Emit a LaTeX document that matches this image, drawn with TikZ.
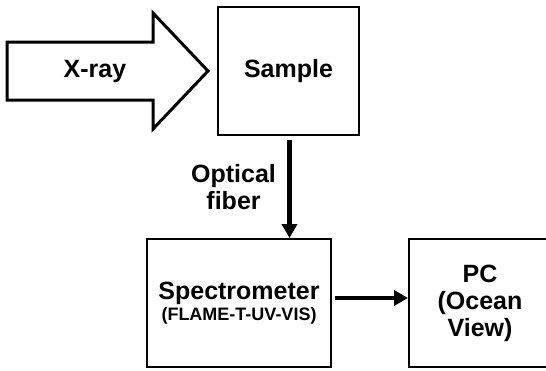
\documentclass[tikz,border=0pt]{standalone}
\usepackage{fontspec}
\setmainfont{Liberation Sans}
\usetikzlibrary{arrows.meta,positioning}

\begin{document}
\begin{tikzpicture}[x=1pt, y=-1pt, >={Triangle[length=14pt, width=15pt]},
	every node/.style={font=\fontsize{25}{27}\selectfont\bfseries, align=center}]
	\useasboundingbox (0,0) rectangle (546,370);
	% x-ray arrow
	\draw[line width=3pt, line join=miter, fill=white] (7,42) -- (153,42) -- (153,13) -- (208,71) -- (153,129) -- (153,100) -- (7,100) -- cycle;
	\node (xray) at (95,71) {X-ray};
	\node[draw, line width=2pt, minimum width=141pt, minimum height=128pt] (sample) at (288.5,71) {Sample};
	\node[draw, line width=2pt, minimum width=184pt, minimum height=128pt] (spectro) at (239,303) {Spectrometer\\[-6pt]{\fontsize{18}{20}\selectfont (FLAME-T-UV-VIS)}};
	\node[draw, line width=2pt, minimum width=142pt, minimum height=128pt] (pc) at (480,303) {PC\\(Ocean\\View)};
	\draw[->, line width=4.5pt, shorten <=4pt] ([xshift=1pt]sample.south) -- ([xshift=1pt]sample.south |- spectro.north) node[midway, left=8pt] (fiber) {Optical\\fiber};
	\draw[->, line width=4.5pt, shorten <=3pt] ([yshift=5pt]spectro.east) -- ([yshift=5pt]pc.west);
\end{tikzpicture}
\end{document}
